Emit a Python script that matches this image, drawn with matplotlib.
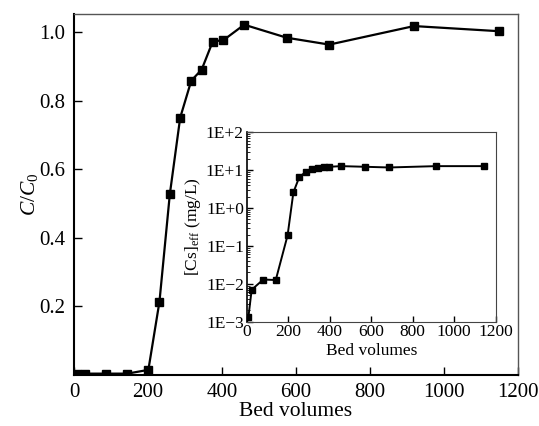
import matplotlib
matplotlib.use("Agg")
import matplotlib.pyplot as plt
from matplotlib.ticker import FixedLocator, FixedFormatter, LogLocator, NullFormatter

plt.rcParams['font.family'] = ['Liberation Serif', 'DejaVu Serif']
plt.rcParams['mathtext.fontset'] = 'custom'
plt.rcParams['mathtext.rm'] = 'Liberation Serif'
plt.rcParams['mathtext.it'] = 'Liberation Serif:italic'

# main curve: C/C0 vs bed volumes
bv_main = [7, 30, 86, 144, 201, 231, 259, 287, 317, 345, 375, 404, 460, 575, 690, 919, 1149]
c_ratio = [0.004, 0.004, 0.004, 0.004, 0.015, 0.214, 0.527, 0.75, 0.858, 0.89,
           0.972, 0.976, 1.021, 0.983, 0.963, 1.017, 1.002]

# inset: effluent Cs concentration (mg/L), log scale
bv_inset = [8, 24, 80, 140, 197, 225, 253, 285, 313, 345, 373, 398, 455, 572, 686, 912, 1145]
cs_eff = [0.0013, 0.007, 0.013, 0.0126, 0.19, 2.6, 6.5, 9.1, 10.5, 11.2,
          11.8, 12.3, 12.8, 12.3, 11.8, 12.8, 12.8]

x_ticks = [0, 200, 400, 600, 800, 1000, 1200]
main_yticks = [0.2, 0.4, 0.6, 0.8, 1.0]
inset_yticks = [1e-3, 1e-2, 1e-1, 1e0, 1e1, 1e2]
inset_ylabels = ['1E\u22123', '1E\u22122', '1E\u22121', '1E+0', '1E+1', '1E+2']

fig = plt.figure(figsize=(5.39, 4.26), dpi=100)
ax = fig.add_axes([0.1373, 0.1197, 0.8237, 0.8473])
ax.plot(bv_main, c_ratio, color='black', lw=1.6, marker='s', ms=5.5)
ax.set_xlim(0, 1200)
ax.set_ylim(0, 1.052)
ax.set_xticks(x_ticks)
ax.set_yticks(main_yticks)
ax.set_yticklabels([f'{v:.1f}' for v in main_yticks])
ax.tick_params(direction='in', length=6, width=1, labelsize=15, pad=6)
ax.set_xlabel('Bed volumes', fontsize=15.5, labelpad=0)
ax.set_ylabel(r'$C/C_0$', fontsize=15.5, labelpad=0)
for side in ['top', 'right']:
    ax.spines[side].set_color('#555555')
    ax.spines[side].set_linewidth(1)
for side in ['left', 'bottom']:
    ax.spines[side].set_linewidth(1.5)

ins = fig.add_axes([0.4577, 0.2448, 0.462, 0.4446])
ins.plot(bv_inset, cs_eff, color='black', lw=1.4, marker='s', ms=4)
ins.set_yscale('log')
ins.set_xlim(0, 1200)
ins.set_ylim(1e-3, 1e2)
ins.set_xticks(x_ticks)
ins.yaxis.set_major_locator(FixedLocator(inset_yticks))
ins.yaxis.set_major_formatter(FixedFormatter(inset_ylabels))
ins.yaxis.set_minor_locator(LogLocator(base=10, subs=range(2, 10), numticks=20))
ins.yaxis.set_minor_formatter(NullFormatter())
ins.tick_params(direction='in', length=4, width=1, labelsize=12.5, pad=2)
ins.tick_params(which='minor', direction='in', length=2, width=0.6)
ins.set_xlabel('Bed volumes', fontsize=12.5, labelpad=2)
ins.set_ylabel(r'[Cs]$_{\rm eff}$ (mg/L)', fontsize=12.5, labelpad=2)
for side in ['top', 'right', 'bottom']:
    ins.spines[side].set_color('#444444')
    ins.spines[side].set_linewidth(0.8)
ins.spines['left'].set_linewidth(1.2)

fig.savefig('out.png', dpi=100)
